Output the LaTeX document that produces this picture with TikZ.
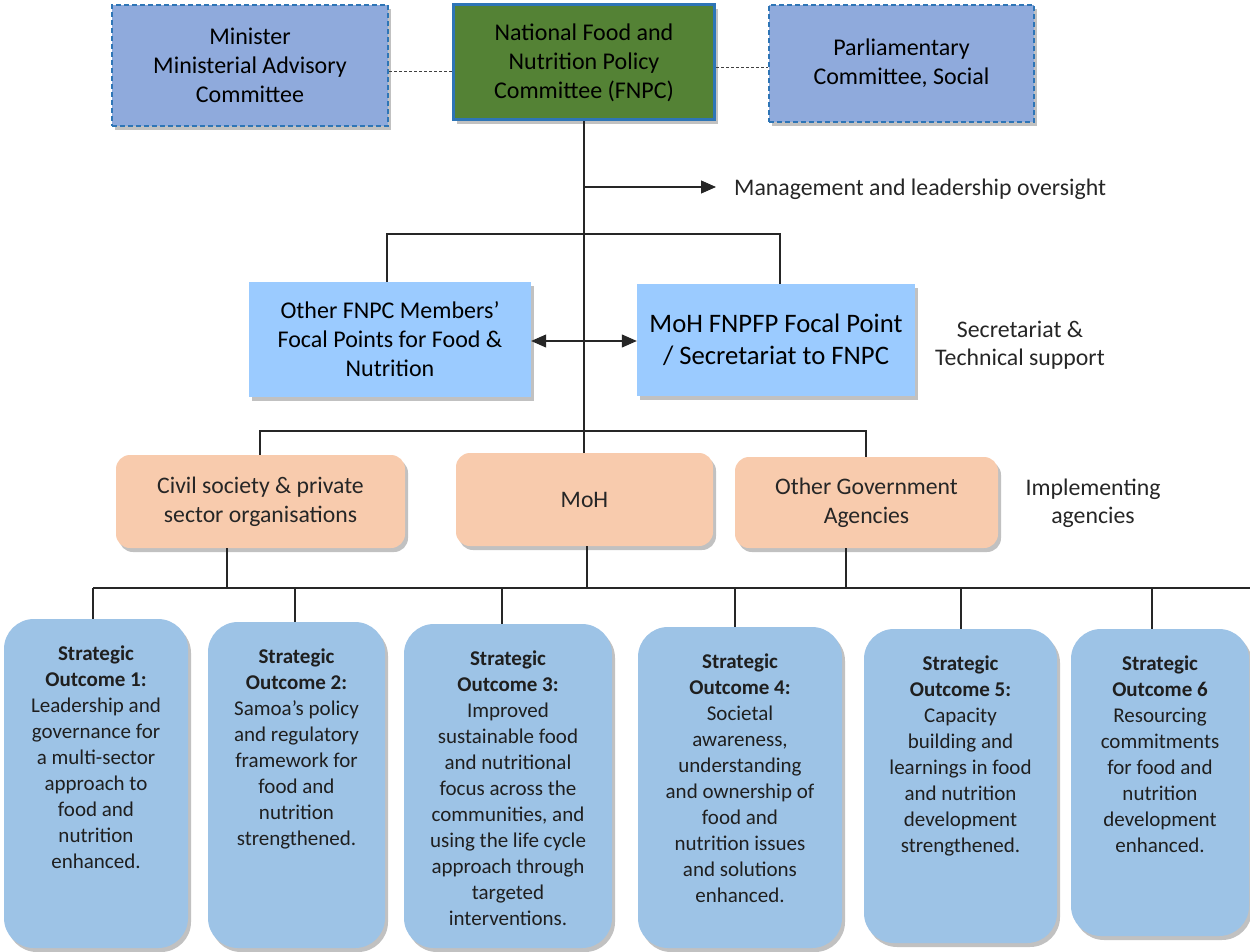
\documentclass[tikz,border=0pt]{standalone}
\usepackage{fontspec}
\setmainfont{Carlito}
\usetikzlibrary{arrows.meta,shadows}
\definecolor{minfill}{HTML}{8FAADC}
\definecolor{bordblue}{HTML}{2E75B6}
\definecolor{fnpcgreen}{HTML}{548235}
\definecolor{midblue}{HTML}{9BCBFF}
\definecolor{orangefill}{HTML}{F8CBAD}
\definecolor{outblue}{HTML}{9DC3E6}
\begin{document}
\begin{tikzpicture}[x=1pt,y=-1pt,
  conn/.style={draw=black!85, line width=1.1pt},
  dashconn/.style={draw=black!75, line width=0.8pt, dash pattern=on 3pt off 2pt},
  shad/.style={drop shadow={shadow xshift=3pt, shadow yshift=-4pt, opacity=0.35, fill=black!70}},
  topbox/.style={rectangle, align=center, inner sep=0pt, font=\fontsize{24}{29}\selectfont, shad},
  dashbox/.style={topbox, fill=minfill, draw=bordblue, line width=2pt, dash pattern=on 5pt off 3pt},
  greenbox/.style={topbox, fill=fnpcgreen, draw=bordblue, line width=3pt},
  midbox/.style={topbox, fill=midblue},
  orbox/.style={rectangle, rounded corners=14pt, align=center, inner sep=0pt, fill=orangefill, font=\fontsize{23.7}{29}\selectfont, text=black!85, shad},
  outbox/.style={rectangle, rounded corners=30pt, fill=outblue, inner sep=0pt, shad},
  outtext/.style={align=center, inner sep=0pt, anchor=north, font=\fontsize{21}{26}\selectfont, text=black!88},
  sidelab/.style={align=center, inner sep=0pt, font=\fontsize{23.8}{28}\selectfont, text=black!85},
  arr/.style={-{Triangle[length=15pt,width=13pt]}},
  darr/.style={{Triangle[length=15pt,width=13pt]}-{Triangle[length=15pt,width=13pt]}}
]
\useasboundingbox (0,0) rectangle (1250,952);

% top row
\node[dashbox, minimum width=276pt, minimum height=121pt] (minister) at (250,65.5) {Minister\\Ministerial Advisory\\Committee};
\node[greenbox, minimum width=261pt, minimum height=115pt] (fnpc) at (584,62.5) {National Food and\\Nutrition Policy\\Committee (FNPC)};
\node[dashbox, minimum width=265pt, minimum height=117pt] (parl) at (901.5,63.5) {Parliamentary\\Committee, Social};

\coordinate (dl) at (0,71);
\coordinate (dr) at (0,67);
\draw[dashconn] (minister.east |- dl) -- (fnpc.west |- dl);
\draw[dashconn] (fnpc.east |- dr) -- (parl.west |- dr);

% middle row
\node[midbox, minimum width=282pt, minimum height=115pt] (ofnpc) at (390,339.5) {Other FNPC Members’\\Focal Points for Food \&\\Nutrition};
\node[midbox, minimum width=278pt, minimum height=112pt, font=\fontsize{26.7}{32}\selectfont] (mohf) at (776,340) {MoH FNPFP Focal Point\\/ Secretariat to FNPC};
\node[sidelab] (secr) at (1020,345) {Secretariat \&\\Technical support};

% implementing agencies
\node[orbox, minimum width=289pt, minimum height=93pt] (civ) at (260.5,501.5) {Civil society \& private\\sector organisations};
\node[orbox, minimum width=257pt, minimum height=93pt] (moh) at (584.5,499.5) {MoH};
\node[orbox, minimum width=263pt, minimum height=91pt] (oga) at (866.5,502.5) {Other Government\\Agencies};
\node[sidelab] (impl) at (1093,503) {Implementing\\agencies};

% management label
\node[sidelab, anchor=west] (mgmt) at (734,189) {Management and leadership oversight};

% trunk and arrows
\draw[conn] (fnpc.south) -- (fnpc.south |- moh.north);
\coordinate (m1) at (584,187);
\coordinate (m2) at (716,187);
\draw[conn, arr] (m1) -- (m2);

\coordinate (b1) at (387,234);
\coordinate (b2) at (780,234);
\draw[conn] (b1 |- ofnpc.north) -- (b1) -- (b2) -- (b2 |- mohf.north);

\coordinate (da) at (0,341);
\draw[conn, darr] (ofnpc.east |- da) -- (mohf.west |- da);

\coordinate (c1) at (260,431);
\coordinate (c2) at (866,431);
\draw[conn] (c1 |- civ.north) -- (c1) -- (c2) -- (c2 |- oga.north);

% outcomes
\node[outbox, minimum width=184pt, minimum height=329pt] (o1) at (96,783.5) {};
\node[outbox, minimum width=177pt, minimum height=326pt] (o2) at (296.5,785) {};
\node[outbox, minimum width=208pt, minimum height=324pt] (o3) at (508,786) {};
\node[outbox, minimum width=204pt, minimum height=321pt] (o4) at (740,787.5) {};
\node[outbox, minimum width=193pt, minimum height=314pt] (o5) at (960.5,786) {};
\node[outbox, minimum width=178pt, minimum height=307pt] (o6) at (1160,782.5) {};

\node[outtext] (t1) at ([yshift=-27pt]o1.north) {\textbf{Strategic}\\\textbf{Outcome 1:}\\Leadership and\\governance for\\a multi-sector\\approach to\\food and\\nutrition\\enhanced.};
\node[outtext] (t2) at ([yshift=-27pt]o2.north) {\textbf{Strategic}\\\textbf{Outcome 2:}\\Samoa’s policy\\and regulatory\\framework for\\food and\\nutrition\\strengthened.};
\node[outtext] (t3) at ([yshift=-27pt]o3.north) {\textbf{Strategic}\\\textbf{Outcome 3:}\\Improved\\sustainable food\\and nutritional\\focus across the\\communities, and\\using the life cycle\\approach through\\targeted\\interventions.};
\node[outtext] (t4) at ([yshift=-27pt]o4.north) {\textbf{Strategic}\\\textbf{Outcome 4:}\\Societal\\awareness,\\understanding\\and ownership of\\food and\\nutrition issues\\and solutions\\enhanced.};
\node[outtext] (t5) at ([yshift=-27pt]o5.north) {\textbf{Strategic}\\\textbf{Outcome 5:}\\Capacity\\building and\\learnings in food\\and nutrition\\development\\strengthened.};
\node[outtext] (t6) at ([yshift=-27pt]o6.north) {\textbf{Strategic}\\\textbf{Outcome 6}\\Resourcing\\commitments\\for food and\\nutrition\\development\\enhanced.};

% lower bar
\coordinate (d0) at (93,588);
\coordinate (d7) at (1250,588);
\draw[conn] (d0) -- (d7);
\coordinate (e1) at (227,588);
\coordinate (e2) at (587,588);
\coordinate (e3) at (846,588);
\draw[conn] (e1 |- civ.south) -- (e1);
\draw[conn] (e2 |- moh.south) -- (e2);
\draw[conn] (e3 |- oga.south) -- (e3);

\coordinate (f1) at (93,588);
\coordinate (f2) at (295,588);
\coordinate (f3) at (502,588);
\coordinate (f4) at (735,588);
\coordinate (f5) at (961,588);
\coordinate (f6) at (1152,588);
\draw[conn] (f1) -- (f1 |- o1.north);
\draw[conn] (f2) -- (f2 |- o2.north);
\draw[conn] (f3) -- (f3 |- o3.north);
\draw[conn] (f4) -- (f4 |- o4.north);
\draw[conn] (f5) -- (f5 |- o5.north);
\draw[conn] (f6) -- (f6 |- o6.north);
\end{tikzpicture}
\end{document}
